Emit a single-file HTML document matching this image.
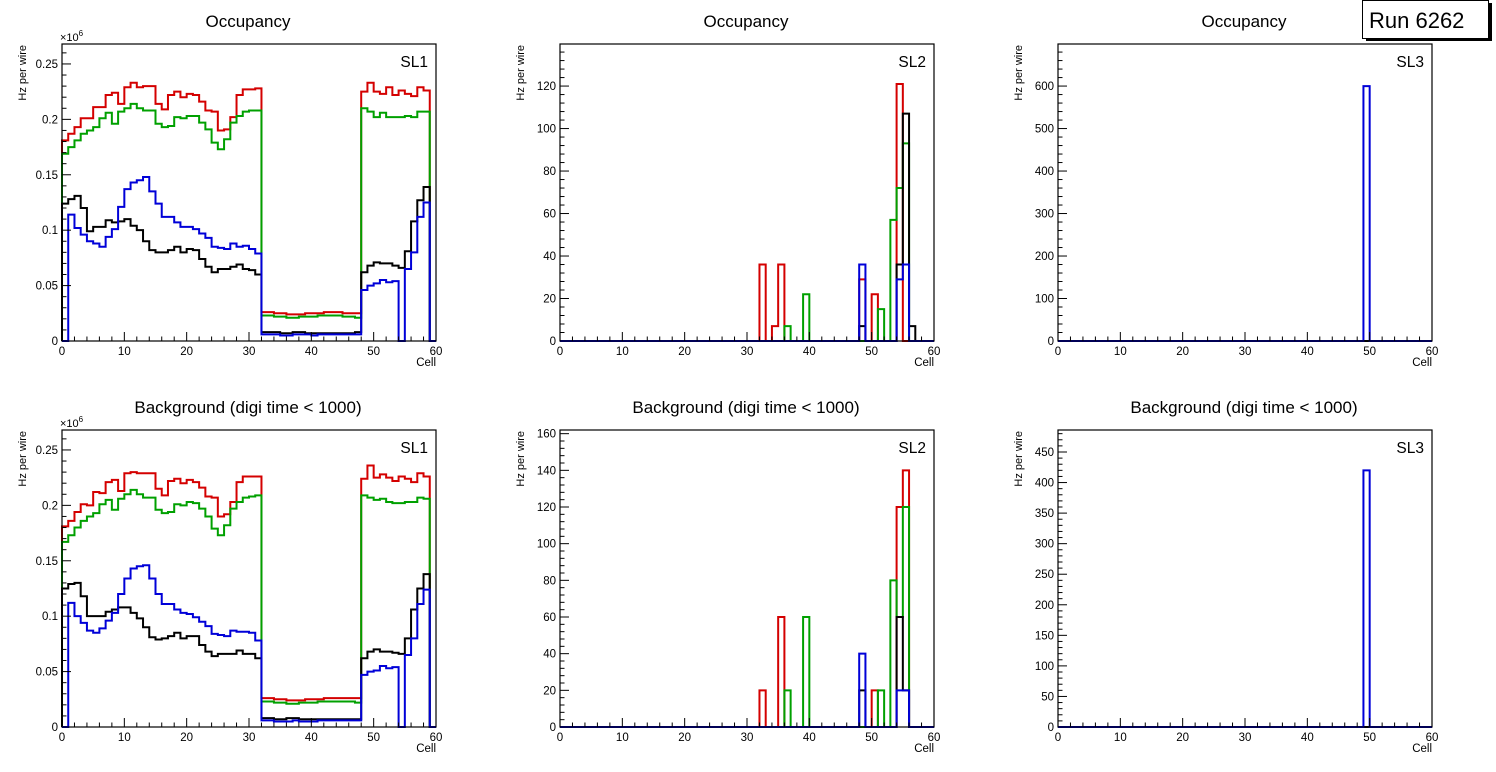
<!DOCTYPE html>
<html><head><meta charset="utf-8"><style>
html,body{margin:0;padding:0;background:#fff;}
svg{display:block;font-family:"Liberation Sans",sans-serif;}
</style></head><body>
<svg id="c" width="1496" height="772" viewBox="0 0 1496 772"></svg>
<script>
// ---- data (60 bins, cells 0..60) ----
const sl1TopRed=[0.181,0.187,0.193,0.201,0.201,0.211,0.211,0.222,0.224,0.214,0.229,0.233,0.229,0.230,0.230,0.214,0.209,0.222,0.225,0.220,0.223,0.222,0.216,0.208,0.207,0.190,0.191,0.202,0.222,0.227,0.227,0.228,0.026,0.026,0.025,0.025,0.024,0.024,0.024,0.025,0.025,0.025,0.026,0.026,0.026,0.025,0.025,0.025,0.225,0.233,0.225,0.223,0.229,0.222,0.226,0.223,0.221,0.229,0.226,0];
const sl1TopGreen=[0.169,0.175,0.181,0.187,0.190,0.193,0.201,0.206,0.196,0.207,0.210,0.214,0.210,0.208,0.208,0.196,0.193,0.194,0.202,0.201,0.203,0.203,0.197,0.191,0.179,0.173,0.182,0.197,0.203,0.207,0.208,0.208,0.023,0.023,0.022,0.022,0.021,0.021,0.022,0.022,0.022,0.023,0.023,0.023,0.023,0.022,0.022,0.021,0.210,0.207,0.202,0.206,0.202,0.202,0.202,0.203,0.202,0.207,0.207,0];
const sl1TopBlack=[0.124,0.128,0.131,0.120,0.099,0.103,0.103,0.109,0.107,0.108,0.110,0.104,0.100,0.090,0.082,0.080,0.080,0.082,0.085,0.080,0.083,0.082,0.074,0.067,0.062,0.065,0.065,0.067,0.069,0.065,0.064,0.060,0.008,0.008,0.008,0.007,0.007,0.008,0.008,0.007,0.007,0.007,0.007,0.007,0.007,0.007,0.007,0.008,0.062,0.068,0.071,0.070,0.070,0.068,0.066,0.081,0.108,0.127,0.139,0];
const sl1TopBlue=[0,0.114,0.102,0.096,0.090,0.088,0.085,0.094,0.101,0.121,0.137,0.143,0.145,0.148,0.135,0.124,0.112,0.112,0.107,0.103,0.103,0.101,0.097,0.093,0.085,0.084,0.083,0.088,0.085,0.086,0.083,0.079,0.006,0.006,0.006,0.005,0.005,0.006,0.006,0.006,0.005,0.006,0.006,0.006,0.006,0.006,0.006,0.006,0.046,0.050,0.052,0.055,0.053,0.054,0,0.065,0.080,0.112,0.125,0];

const sl1BotRed=[0.181,0.186,0.194,0.201,0.200,0.212,0.211,0.221,0.223,0.213,0.229,0.230,0.229,0.229,0.229,0.215,0.209,0.222,0.224,0.220,0.223,0.221,0.216,0.208,0.207,0.190,0.192,0.203,0.221,0.226,0.226,0.226,0.026,0.026,0.025,0.025,0.024,0.024,0.024,0.025,0.025,0.025,0.026,0.026,0.026,0.026,0.026,0.026,0.224,0.236,0.225,0.228,0.225,0.222,0.226,0.224,0.221,0.229,0.226,0];
const sl1BotGreen=[0.167,0.173,0.180,0.186,0.190,0.193,0.201,0.205,0.196,0.206,0.210,0.214,0.210,0.207,0.207,0.196,0.193,0.194,0.201,0.200,0.203,0.202,0.197,0.190,0.179,0.173,0.182,0.197,0.203,0.207,0.208,0.209,0.023,0.023,0.022,0.022,0.021,0.021,0.022,0.022,0.022,0.023,0.023,0.023,0.023,0.023,0.023,0.022,0.209,0.207,0.205,0.206,0.203,0.202,0.202,0.203,0.203,0.207,0.206,0];
const sl1BotBlack=[0.125,0.129,0.130,0.118,0.100,0.100,0.100,0.104,0.106,0.108,0.108,0.103,0.098,0.090,0.081,0.079,0.080,0.082,0.085,0.080,0.082,0.082,0.074,0.068,0.064,0.066,0.066,0.066,0.069,0.066,0.066,0.062,0.008,0.008,0.007,0.007,0.008,0.008,0.007,0.007,0.007,0.007,0.007,0.007,0.007,0.007,0.007,0.007,0.062,0.068,0.070,0.068,0.068,0.067,0.066,0.080,0.106,0.125,0.138,0];
const sl1BotBlue=[0,0.112,0.100,0.094,0.087,0.085,0.089,0.096,0.103,0.120,0.134,0.143,0.145,0.146,0.134,0.120,0.111,0.111,0.106,0.103,0.102,0.099,0.095,0.091,0.084,0.083,0.082,0.087,0.086,0.086,0.085,0.078,0.006,0.006,0.005,0.005,0.005,0.006,0.005,0.005,0.005,0.006,0.006,0.006,0.006,0.006,0.006,0.006,0.047,0.050,0.051,0.055,0.053,0.054,0,0.065,0.080,0.111,0.124,0];

const sl2TopRed=[0,0,0,0,0,0,0,0,0,0, 0,0,0,0,0,0,0,0,0,0, 0,0,0,0,0,0,0,0,0,0, 0,0,36,0,7,36,0,0,0,0, 0,0,0,0,0,0,0,0,29,0, 22,0,0,0,121,0,0,0,0,0];
const sl2TopGreen=[0,0,0,0,0,0,0,0,0,0, 0,0,0,0,0,0,0,0,0,0, 0,0,0,0,0,0,0,0,0,0, 0,0,0,0,0,0,7,0,0,22, 0,0,0,0,0,0,0,0,0,0, 0,15,0,57,72,93,0,0,0,0];
const sl2TopBlack=[0,0,0,0,0,0,0,0,0,0, 0,0,0,0,0,0,0,0,0,0, 0,0,0,0,0,0,0,0,0,0, 0,0,0,0,0,0,0,0,0,0, 0,0,0,0,0,0,0,0,7,0, 0,0,0,0,36,107,7,0,0,0];
const sl2TopBlue=[0,0,0,0,0,0,0,0,0,0, 0,0,0,0,0,0,0,0,0,0, 0,0,0,0,0,0,0,0,0,0, 0,0,0,0,0,0,0,0,0,0, 0,0,0,0,0,0,0,0,36,0, 0,0,0,0,29,36,0,0,0,0];

const sl2BotRed=[0,0,0,0,0,0,0,0,0,0, 0,0,0,0,0,0,0,0,0,0, 0,0,0,0,0,0,0,0,0,0, 0,0,20,0,0,60,0,0,0,0, 0,0,0,0,0,0,0,0,0,0, 20,0,0,0,120,140,0,0,0,0];
const sl2BotGreen=[0,0,0,0,0,0,0,0,0,0, 0,0,0,0,0,0,0,0,0,0, 0,0,0,0,0,0,0,0,0,0, 0,0,0,0,0,0,20,0,0,60, 0,0,0,0,0,0,0,0,0,0, 0,20,0,80,60,120,0,0,0,0];
const sl2BotBlack=[0,0,0,0,0,0,0,0,0,0, 0,0,0,0,0,0,0,0,0,0, 0,0,0,0,0,0,0,0,0,0, 0,0,0,0,0,0,0,0,0,0, 0,0,0,0,0,0,0,0,20,0, 0,0,0,0,60,20,0,0,0,0];
const sl2BotBlue=[0,0,0,0,0,0,0,0,0,0, 0,0,0,0,0,0,0,0,0,0, 0,0,0,0,0,0,0,0,0,0, 0,0,0,0,0,0,0,0,0,0, 0,0,0,0,0,0,0,0,40,0, 0,0,0,0,20,20,0,0,0,0];

const sl3Zero=[0,0,0,0,0,0,0,0,0,0, 0,0,0,0,0,0,0,0,0,0, 0,0,0,0,0,0,0,0,0,0, 0,0,0,0,0,0,0,0,0,0, 0,0,0,0,0,0,0,0,0,0, 0,0,0,0,0,0,0,0,0,0];
const sl3TopBlue=[0,0,0,0,0,0,0,0,0,0, 0,0,0,0,0,0,0,0,0,0, 0,0,0,0,0,0,0,0,0,0, 0,0,0,0,0,0,0,0,0,0, 0,0,0,0,0,0,0,0,0,600, 0,0,0,0,0,0,0,0,0,0];
const sl3BotBlue=[0,0,0,0,0,0,0,0,0,0, 0,0,0,0,0,0,0,0,0,0, 0,0,0,0,0,0,0,0,0,0, 0,0,0,0,0,0,0,0,0,0, 0,0,0,0,0,0,0,0,0,420, 0,0,0,0,0,0,0,0,0,0];

const xTickLabels=["0","10","20","30","40","50","60"];
const sl1TickLabels=["0","0.05","0.1","0.15","0.2","0.25"];
const sl2TopTickLabels=["0","20","40","60","80","100","120"];
const sl2BotTickLabels=["0","20","40","60","80","100","120","140","160"];
const sl3TopTickLabels=["0","100","200","300","400","500","600"];
const sl3BotTickLabels=["0","50","100","150","200","250","300","350","400","450"];

const NS="http://www.w3.org/2000/svg";
const svg=document.getElementById('c');
function mk(tag,attrs,parent,text){const e=document.createElementNS(NS,tag);for(const k in attrs)e.setAttribute(k,attrs[k]);if(text!==undefined)e.textContent=text;(parent||svg).appendChild(e);return e;}

const COLORS={red:"#d40000",green:"#00a000",black:"#000000",blue:"#0000d8"};

function panel(cfg){
  const g=mk('g',{});
  
  
  const {x0,x1,y0,y1,ymax}=cfg;
  const sx=v=>x0+(v/60)*(x1-x0);
  const sy=v=>y1-(Math.min(v,ymax)/ymax)*(y1-y0);
  const t=mk('text',{x:(x0+x1)/2-1,y:y0-17,'font-size':17,'text-anchor':'middle'},g,cfg.title);
  
  
  const order=['red','green','black','blue'];
  order.forEach(c=>{
    const vals=cfg.series[c];
    let d=`M${sx(0)},${sy(0)}`;
    for(let i=0;i<vals.length;i++){d+=` L${sx(i)},${sy(vals[i])} L${sx(i+1)},${sy(vals[i])}`;}
    d+=` L${sx(60)},${sy(0)}`;
    const p=mk('path',{d:d,fill:'none',stroke:COLORS[c],'stroke-width':2},g);
    
    
  });
  const fr=mk('rect',{x:x0,y:y0,width:x1-x0,height:y1-y0,fill:'none',stroke:'#000','stroke-width':1.2},g);
  
  
  for(let v=0;v<=60;v+=2){
    const maj=v%10===0;const X=sx(v);
    mk('line',{x1:X,y1:y1,x2:X,y2:y1-(maj?9:4.5),stroke:'#000','stroke-width':1},g);
  }
  xTickLabels.forEach((lab,i)=>{
    const tl=mk('text',{x:sx(i*10),y:y1+14,'font-size':11.5,'text-anchor':'middle'},g,lab);
    
    
  });
  const xt=mk('text',{x:x1,y:y1+25,'font-size':11.5,'text-anchor':'end'},g,'Cell');
  
  
  const step=cfg.ystep, minor=step/cfg.ydiv;
  for(let k=0;k*minor<=ymax+1e-9;k++){
    const v=k*minor;const maj=k%cfg.ydiv===0;const Y=sy(v);
    mk('line',{x1:x0,y1:Y,x2:x0+(maj?9:4.5),y2:Y,stroke:'#000','stroke-width':1},g);
  }
  cfg.ylabels.forEach((lab,i)=>{
    const yl=mk('text',{x:x0-4,y:sy(i*step)+4,'font-size':11.5,'text-anchor':'end'},g,lab);
    
    
  });
  const yt=mk('text',{x:0,y:0,'font-size':11,'text-anchor':'end',transform:`translate(${x0-36},${y0+1}) rotate(-90)`},g,'Hz per wire');
  
  
  if(cfg.exp){
    const ex=mk('text',{x:x0-2,y:y0-3,'font-size':11},g);
    
    
    mk('tspan',{},ex,'×10');
    mk('tspan',{dy:-5,'font-size':8},ex,'6');
  }
  const sl=mk('text',{x:x1-8,y:y0+23,'font-size':15.5,'text-anchor':'end'},g,cfg.sl);
  
  
}

const cols=[[62,436],[560,934],[1058,1432]];
const rows=[[44,341],[430,727]];
const T1='Occupancy',T2='Background (digi time < 1000)';
panel({name:'sl1-occupancy-panel',x0:cols[0][0],x1:cols[0][1],y0:rows[0][0],y1:rows[0][1],ymax:0.268,ystep:0.05,ydiv:5,ylabels:sl1TickLabels,title:T1,sl:'SL1',exp:true,series:{red:sl1TopRed,green:sl1TopGreen,black:sl1TopBlack,blue:sl1TopBlue}});
panel({name:'sl2-occupancy-panel',x0:cols[1][0],x1:cols[1][1],y0:rows[0][0],y1:rows[0][1],ymax:139.8,ystep:20,ydiv:5,ylabels:sl2TopTickLabels,title:T1,sl:'SL2',series:{red:sl2TopRed,green:sl2TopGreen,black:sl2TopBlack,blue:sl2TopBlue}});
panel({name:'sl3-occupancy-panel',x0:cols[2][0],x1:cols[2][1],y0:rows[0][0],y1:rows[0][1],ymax:699,ystep:100,ydiv:5,ylabels:sl3TopTickLabels,title:T1,sl:'SL3',series:{red:sl3Zero,green:sl3Zero,black:sl3Zero,blue:sl3TopBlue}});
panel({name:'sl1-background-panel',x0:cols[0][0],x1:cols[0][1],y0:rows[1][0],y1:rows[1][1],ymax:0.268,ystep:0.05,ydiv:5,ylabels:sl1TickLabels,title:T2,sl:'SL1',exp:true,series:{red:sl1BotRed,green:sl1BotGreen,black:sl1BotBlack,blue:sl1BotBlue}});
panel({name:'sl2-background-panel',x0:cols[1][0],x1:cols[1][1],y0:rows[1][0],y1:rows[1][1],ymax:162,ystep:20,ydiv:5,ylabels:sl2BotTickLabels,title:T2,sl:'SL2',series:{red:sl2BotRed,green:sl2BotGreen,black:sl2BotBlack,blue:sl2BotBlue}});
panel({name:'sl3-background-panel',x0:cols[2][0],x1:cols[2][1],y0:rows[1][0],y1:rows[1][1],ymax:486,ystep:50,ydiv:5,ylabels:sl3BotTickLabels,title:T2,sl:'SL3',series:{red:sl3Zero,green:sl3Zero,black:sl3Zero,blue:sl3BotBlue}});

const rb=mk('g',{});


mk('rect',{x:1366,y:3,width:126,height:38,fill:'#000'},rb);
mk('rect',{x:1362.5,y:0.5,width:126,height:38,fill:'#fff',stroke:'#000','stroke-width':1},rb);
const rt=mk('text',{x:1369,y:28,'font-size':22},rb,'Run 6262');


</script>
</body></html>
